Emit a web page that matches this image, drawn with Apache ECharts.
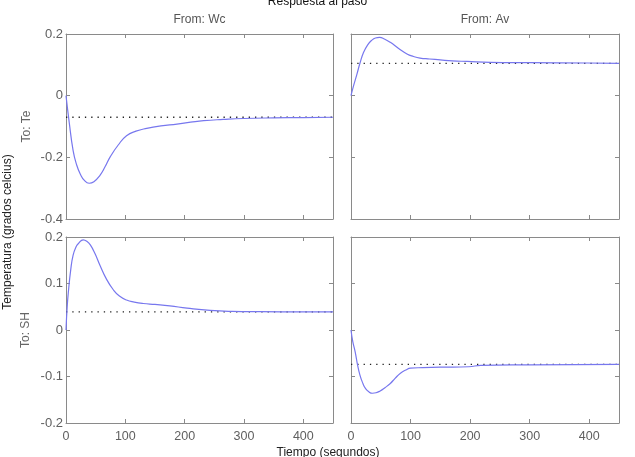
<!DOCTYPE html>
<html>
<head>
<meta charset="utf-8">
<script src="https://cdn.jsdelivr.net/npm/echarts@6/dist/echarts.min.js"></script>
<style>html,body{margin:0;padding:0;background:#fff}#c{width:635px;height:457px}</style>
</head>
<body>
<div id="c"></div>
<script>
// ---- Data ----
const colTitles = ['From: Wc', 'From: Av'];
const rowTitles = ['To: Te', 'To: SH'];
const xTicks = [0, 100, 200, 300, 400];

// Wc -> Te
const tWcTe = [0, 5, 12, 18, 24, 31, 39, 47, 57, 66, 74, 88, 102, 118, 136, 160, 187, 210, 232, 265, 299, 350, 400, 450];
const vWcTe = [0, -0.08, -0.178, -0.225, -0.254, -0.275, -0.284, -0.279, -0.259, -0.23, -0.2, -0.16, -0.13, -0.115, -0.106, -0.098, -0.092, -0.086, -0.081, -0.077, -0.074, -0.072, -0.071, -0.070];
// Av -> Te
const tAvTe = [0, 4, 10, 15, 21, 28, 35, 41, 48, 56, 66, 80, 94, 105, 116, 132, 150, 170, 195, 234, 300, 397, 450];
const vAvTe = [0, 0.03, 0.07, 0.105, 0.14, 0.165, 0.18, 0.187, 0.189, 0.184, 0.173, 0.153, 0.135, 0.127, 0.122, 0.119, 0.116, 0.113, 0.111, 0.108, 0.107, 0.106, 0.105];
// Wc -> SH
const tWcSH = [0, 2, 4, 8, 12, 17, 21, 29, 35, 41, 49, 57, 68, 80, 90, 102, 115, 130, 150, 175, 204, 243, 280, 327, 400, 450];
const vWcSH = [0, 0.05, 0.082, 0.13, 0.161, 0.179, 0.186, 0.194, 0.191, 0.183, 0.164, 0.14, 0.11, 0.086, 0.073, 0.0645, 0.06, 0.057, 0.055, 0.052, 0.047, 0.042, 0.040, 0.0394, 0.039, 0.039];
// Av -> SH
const tAvSH = [0, 3, 7, 11, 15, 20, 24, 30, 36, 42, 49, 57, 66, 74, 83, 92, 100, 120, 150, 198, 218, 300, 450];
const vAvSH = [0, -0.025, -0.047, -0.075, -0.097, -0.115, -0.125, -0.133, -0.136, -0.135, -0.131, -0.124, -0.115, -0.104, -0.093, -0.086, -0.082, -0.081, -0.080, -0.079, -0.076, -0.075, -0.074];

const steadyTe = [-0.070, 0.105];   // steady-state per column, row Te
const steadySH = [0.039, -0.074];   // steady-state per column, row SH

const yTe = {min: -0.4, max: 0.2, interval: 0.2};
const ySH = {min: -0.2, max: 0.2, interval: 0.1};
const xRange = {min: 0, max: 450, interval: 100};

// ---- Layout ----
const grids = [
  {left: 66, top: 34, width: 267, height: 185},
  {left: 351, top: 34, width: 268, height: 185},
  {left: 66, top: 237, width: 267, height: 186},
  {left: 351, top: 237, width: 268, height: 186}
];
const curves = [[tWcTe, vWcTe], [tAvTe, vAvTe], [tWcSH, vWcSH], [tAvSH, vAvSH]];
const steady = [steadyTe[0], steadyTe[1], steadySH[0], steadySH[1]];
const yRanges = [yTe, yTe, ySH, ySH];

const axisColor = '#8a8a8a';
const labelColor = '#606060';
const font = 'Liberation Sans, Arial, sans-serif';

const xAxis = [], yAxis = [], series = [];
grids.forEach((g, i) => {
  const bottomRow = i >= 2, leftCol = i % 2 === 0;
  const common = {
    axisLine: {show: true, onZero: false, lineStyle: {color: axisColor, width: 1}},
    axisTick: {show: true, inside: true, length: 4, lineStyle: {color: axisColor}},
    splitLine: {show: false}
  };
  xAxis.push(Object.assign({type: 'value', gridIndex: i, position: 'bottom',
    min: xRange.min, max: xRange.max, interval: xRange.interval,
    axisLabel: {show: bottomRow, color: labelColor, fontSize: 12.5, fontFamily: font, margin: 7,
      showMaxLabel: false}}, common));
  xAxis.push(Object.assign({type: 'value', gridIndex: i, position: 'top',
    min: xRange.min, max: xRange.max, interval: xRange.interval,
    axisLabel: {show: false}}, common));
  const yr = yRanges[i];
  yAxis.push(Object.assign({type: 'value', gridIndex: i, position: 'left',
    min: yr.min, max: yr.max, interval: yr.interval,
    axisLabel: {show: leftCol, color: labelColor, fontSize: 13, fontFamily: font, margin: 3}}, common));
  yAxis.push(Object.assign({type: 'value', gridIndex: i, position: 'right',
    min: yr.min, max: yr.max, interval: yr.interval,
    axisLabel: {show: false}}, common));
  const [ts, vs] = curves[i];
  series.push({
    type: 'line', xAxisIndex: 2 * i, yAxisIndex: 2 * i,
    data: ts.map((t, k) => [t, vs[k]]),
    showSymbol: false, smooth: 0.5,
    lineStyle: {color: '#7777ee', width: 1.2}, silent: true, z: 3
  });
  series.push({
    type: 'line', xAxisIndex: 2 * i, yAxisIndex: 2 * i,
    data: [[xRange.min, steady[i]], [xRange.max, steady[i]]],
    showSymbol: false,
    lineStyle: {color: '#222', width: 1.3, type: [1.3, 5]}, silent: true, z: 2
  });
});

const graphic = [
  {type: 'text', left: 'center', top: -4, style: {text: 'Respuesta al paso', fill: '#111', font: '12px ' + font}},
  {type: 'text', x: 199.5, y: 20, style: {text: colTitles[0], fill: '#555', font: '12px ' + font, align: 'center', verticalAlign: 'middle'}},
  {type: 'text', x: 485, y: 20, style: {text: colTitles[1], fill: '#555', font: '12px ' + font, align: 'center', verticalAlign: 'middle'}},
  {type: 'text', x: 27, y: 126.5, rotation: Math.PI / 2, style: {text: rowTitles[0], fill: '#666', font: '12px ' + font, align: 'center', verticalAlign: 'middle'}},
  {type: 'text', x: 26, y: 330, rotation: Math.PI / 2, style: {text: rowTitles[1], fill: '#666', font: '12px ' + font, align: 'center', verticalAlign: 'middle'}},
  {type: 'text', x: 7.5, y: 232, rotation: Math.PI / 2, style: {text: 'Temperatura (grados celcius)', fill: '#222', font: '12px ' + font, align: 'center', verticalAlign: 'middle'}},
  {type: 'text', x: 328, y: 453, style: {text: 'Tiempo (segundos)', fill: '#222', font: '12px ' + font, align: 'center', verticalAlign: 'middle'}}
];

const chart = echarts.init(document.getElementById('c'), null, {renderer: 'canvas'});
chart.setOption({
  animation: false,
  backgroundColor: '#fff',
  grid: grids,
  xAxis, yAxis, series, graphic
});
</script>
</body>
</html>
